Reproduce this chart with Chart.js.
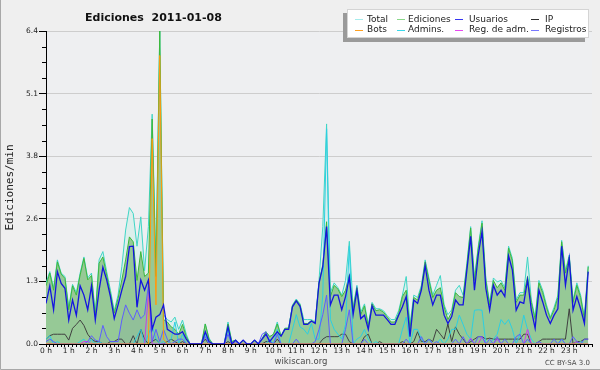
<!DOCTYPE html>
<html><head><meta charset="utf-8">
<script src="https://cdn.jsdelivr.net/npm/chart.js@4.4.0/dist/chart.umd.min.js"></script>
<style>
html,body{margin:0;padding:0;background:#efefef;overflow:hidden}
#wrap{position:relative;width:600px;height:370px}
canvas{display:block}
</style>
</head><body><div id="wrap"><canvas id="c" width="600" height="370"></canvas></div>
<script>
// 10-minute samples, 144 per series (00:00 .. 23:50)
const hourLabels = ["0 h","1 h","2 h","3 h","4 h","5 h","6 h","7 h","8 h","9 h","10 h","11 h","12 h","13 h","14 h","15 h","16 h","17 h","18 h","19 h","20 h","21 h","22 h","23 h"];
const yTickLabels = ["0.0","1.3","2.6","3.8","5.1","6.4"];
const seriesNames = ["Total","Ediciones","Usuarios","IP","Bots","Admins.","Reg. de adm.","Registros"];

const total = [
 1.25,1.48,1.15,1.72,1.45,1.38, 0.75,1.22,1.05,1.45,1.78,1.35, 1.45,0.62,1.72,1.89,1.48,1.10,
 0.68,1.00,1.58,2.33,2.79,2.67, 2.00,2.60,1.50,2.40,4.70,1.60, 6.40,0.60,0.50,0.45,0.55,0.30,
 0.49,0.20,0,0,0,0, 0.41,0.12,0,0,0,0, 0.45,0.05,0.08,0,0.08,0,
 0,0.08,0,0.11,0.25,0.15, 0.20,0.45,0.16,0.32,0.33,0.80, 0.92,0.82,0.50,0.50,0.50,0.45,
 1.30,2.40,4.50,1.05,1.25,1.15, 1.00,1.30,2.10,0.75,1.20,0.65, 0.82,0.40,0.85,0.72,0.72,0.68,
 0.58,0.50,0.50,0.68,1.00,1.38, 0.40,1.00,0.95,1.20,1.72,1.35, 1.00,1.20,1.40,0.80,0.60,0.70,
 1.10,1.20,1.00,1.65,2.40,1.35, 2.00,2.52,1.35,0.85,1.35,1.27, 1.30,1.15,2.00,1.75,0.90,1.05,
 1.05,1.78,0.90,0.55,1.30,1.10, 0.80,0.55,0.75,1.00,2.12,1.50, 1.82,0.90,1.25,1.00,0.55,1.60
];
const ediciones = [
 1.19,1.45,1.10,1.68,1.43,1.34, 0.70,1.19,1.00,1.41,1.75,1.31, 1.40,0.56,1.65,1.78,1.41,1.03,
 0.63,0.93,1.31,1.72,2.19,2.09, 1.30,1.89,1.38,1.45,4.60,1.38, 6.40,0.50,0.45,0.35,0.30,0.20,
 0.40,0.15,0,0,0,0, 0.41,0.10,0,0,0,0, 0.41,0.05,0.08,0,0.08,0,
 0,0.08,0,0.11,0.25,0.15, 0.20,0.41,0.16,0.32,0.32,0.78, 0.90,0.80,0.42,0.42,0.48,0.43,
 1.26,1.62,2.50,0.97,1.20,1.12, 0.97,1.10,1.42,0.72,1.15,0.60, 0.78,0.35,0.82,0.68,0.70,0.65,
 0.55,0.45,0.45,0.62,0.97,1.10, 0.30,0.95,0.90,1.15,1.68,1.30, 0.95,1.10,1.15,0.76,0.50,0.65,
 1.05,0.97,0.95,1.60,2.37,1.30, 1.95,2.47,1.30,0.80,1.30,1.15, 1.25,1.10,1.96,1.70,0.85,1.00,
 1.00,1.38,0.85,0.50,1.25,1.05, 0.75,0.52,0.70,0.95,2.09,1.45, 1.78,0.85,1.20,0.95,0.50,1.58
];
const usuarios = [
 0.83,1.19,0.70,1.48,1.24,1.14, 0.49,0.90,0.59,1.19,1.00,0.70, 1.19,0.49,1.10,1.57,1.31,0.97,
 0.52,0.80,1.10,1.38,1.99,2.00, 0.75,1.31,1.10,1.31,0.30,0.55, 0.60,0.80,0.30,0.25,0.20,0.20,
 0.25,0.10,0,0,0,0, 0.25,0.05,0,0,0,0, 0.35,0,0.08,0,0.08,0,
 0,0.08,0,0.10,0.20,0.05, 0.15,0.25,0.16,0.30,0.30,0.76, 0.88,0.77,0.40,0.40,0.47,0.42,
 1.24,1.58,2.40,0.80,1.00,1.00, 0.70,0.97,1.37,0.60,1.10,0.52, 0.59,0.30,0.78,0.59,0.59,0.59,
 0.50,0.40,0.40,0.59,0.76,0.97, 0.15,0.90,0.83,1.10,1.60,1.10, 0.80,1.00,1.00,0.59,0.42,0.56,
 0.90,0.80,0.80,1.51,2.20,1.10, 1.82,2.30,1.14,0.69,1.20,1.00, 1.10,0.97,1.80,1.51,0.69,0.86,
 0.83,1.31,0.69,0.32,1.10,0.86, 0.59,0.42,0.59,0.72,2.00,1.20, 1.75,0.69,0.97,0.72,0.42,1.48
];
const ip = [
 0.10,0.17,0.20,0.20,0.20,0.20, 0.08,0.32,0.40,0.49,0.38,0.20, 0.10,0.05,0.05,0,0,0.05,
 0.05,0.10,0.10,0,0,0.17, 0,0.30,0.10,0,0.05,0.10, 0,0,0.05,0.10,0.05,0,
 0.05,0,0,0,0,0, 0.10,0,0,0,0,0, 0.05,0,0,0,0,0,
 0,0,0,0,0.05,0.05, 0,0.10,0,0,0,0, 0,0,0,0,0,0,
 0,0.10,0.15,0.15,0.15,0.15, 0.20,0.20,0.05,0,0,0, 0.15,0.20,0,0,0.05,0,
 0,0,0,0,0.05,0, 0,0.05,0.25,0.05,0.05,0.10, 0.05,0.30,0.20,0.10,0.41,0.05,
 0.35,0.20,0.10,0,0.05,0.10, 0.15,0.15,0.10,0.12,0.10,0.10, 0.10,0.10,0.10,0.10,0.10,0.10,
 0.20,0.20,0,0,0.05,0.10, 0.10,0.10,0.10,0.10,0.10,0.10, 0.72,0,0.05,0.05,0.10,0.10
];
const bots = [
 0,0,0,0,0,0, 0,0,0,0,0,0, 0,0,0,0,0,0,
 0,0,0,0,0,0, 0,0,0,0,4.20,0.80, 5.90,0.10,0,0,0,0,
 0,0,0,0,0,0, 0,0,0,0,0,0, 0,0,0,0,0,0,
 0,0,0,0,0,0, 0,0,0,0,0,0, 0,0,0,0,0,0,
 0,0,0,0,0,0, 0,0,0,0,0,0, 0,0,0,0,0,0,
 0,0,0,0,0,0, 0,0,0,0,0,0, 0,0,0,0,0,0,
 0,0,0,0,0,0, 0,0,0,0,0,0, 0,0,0,0,0,0,
 0,0,0,0,0,0, 0,0,0,0,0,0, 0,0,0,0,0,0
];
const admins = [
 0.10,0.17,0,0.05,0,0, 0,0,0,0.05,0.10,0, 0.10,0,0.05,0,0,0,
 0,0,0,0,0,0, 0.15,0.30,0,0.20,0.38,0.10, 0,0.05,0,0.10,0.45,0,
 0.20,0,0,0,0,0, 0.20,0,0,0,0,0, 0.30,0,0,0,0,0,
 0,0,0,0,0,0.10, 0,0.30,0,0,0,0.30, 0.60,0.35,0.30,0.20,0.42,0.10,
 0.10,1.00,4.40,0.50,0.30,0.20, 0.10,0.40,2.00,0,0.10,0.15, 0.30,0.10,0,0.05,0,0,
 0,0,0,0,0.30,0.55, 0,0.30,0.30,0.10,0,0.10, 0,0,0.10,0,0.10,0.30,
 0.30,0.59,0.40,0.20,0.10,0.69, 0.70,0.69,0,0,0.10,0.20, 0.50,0.40,0.50,0.30,0,0.20,
 0.59,0.30,0.10,0,0,0, 0,0,0,0,0.10,0, 0,0,0,0.05,0,0
];
const regAdm = [
 0,0,0,0,0,0, 0,0,0,0,0.05,0.05, 0,0,0,0,0,0,
 0,0,0,0,0,0, 0,0,0,1.05,0,0, 0,0,0,0,0,0,
 0,0,0,0,0,0, 0,0,0,0,0,0, 0,0,0,0,0,0,
 0,0,0,0,0,0, 0,0,0,0,0,0, 0,0,0,0,0,0,
 0,0,0,0,0,0, 0,0,0,0,0,0, 0,0,0,0,0,0,
 0,0,0,0,0,0, 0,0,0,0,0,0, 0,0,0,0,0,0,
 0,0,0,0,0.12,0, 0,0.15,0,0,0,0.10, 0,0,0,0,0,0,
 0,0.30,0,0,0,0, 0,0,0,0,0,0, 0,0,0.05,0,0,0
];
const registros = [
 0.05,0.10,0.05,0,0,0, 0,0,0,0,0,0.05, 0.17,0.08,0.05,0.38,0.15,0.05,
 0.05,0.05,0.49,0.80,0.63,0.49, 0.70,0.52,0.60,1.20,0.05,0.30, 0.05,0.30,0.10,0,0.05,0.10,
 0.10,0,0,0,0,0, 0.15,0,0,0,0,0, 0.20,0,0.05,0,0,0,
 0,0,0,0.20,0.25,0.05, 0,0.20,0,0,0,0, 0.10,0,0,0,0,0.05,
 0.30,0.60,1.00,0,0,0, 0,0.30,0.70,0,0,0, 0.10,0,0,0,0,0,
 0,0,0,0,0,0.10, 0,0,0,0.15,0,0.10, 0,0.05,0,0,0,0,
 0.10,0,0.15,0,0.10,0, 0.15,0.15,0,0.10,0,0.15, 0,0.10,0,0,0.15,0.20,
 0,0.10,0,0,0.05,0, 0,0,0.10,0,0.10,0, 0,0.15,0.05,0,0.10,0.10
];

const toPoints = arr => arr.map((v, i) => ({x: i, y: v}));
const FONT = '"DejaVu Sans", sans-serif';

const datasets = [
  {label: seriesNames[2], data: toPoints(usuarios),  borderColor: '#1414e0', borderWidth: 1.3, legendColor: '#3535f2', order: 1},
  {label: seriesNames[4], data: toPoints(bots),      borderColor: '#ff9a10', legendColor: '#ffa020', order: 2},
  {label: seriesNames[7], data: toPoints(registros), borderColor: '#5e5eff', backgroundColor: 'rgba(80,90,200,0.07)', fill: 'origin', legendColor: '#7878ff', order: 3},
  {label: seriesNames[6], data: toPoints(regAdm),    borderColor: '#d43ce8', legendColor: '#e848f0', order: 4},
  {label: seriesNames[5], data: toPoints(admins),    borderColor: '#2ccfe2', legendColor: '#3ad8ea', order: 5},
  {label: seriesNames[3], data: toPoints(ip),        borderColor: '#404040', legendColor: '#303030', order: 6},
  {label: seriesNames[1], data: toPoints(ediciones), borderColor: '#3cb83c', backgroundColor: '#96c996', fill: 'origin', legendColor: '#8ad88a', order: 8},
  {label: seriesNames[0], data: toPoints(total),     borderColor: '#3fd6c6', backgroundColor: '#dcefec', fill: 'origin', legendColor: '#a6ecec', order: 9}
];

const decoPlugin = {
  id: 'deco',
  beforeDraw(chart) {
    const ctx = chart.ctx;
    ctx.save();
    ctx.fillStyle = '#efefef';
    ctx.fillRect(0, 0, chart.width, chart.height);
    const a = chart.chartArea;
    ctx.fillStyle = '#eeeff1';
    ctx.fillRect(a.left, a.top, a.right - a.left, a.bottom - a.top);
    ctx.restore();
  },
  afterDraw(chart) {
    const ctx = chart.ctx;
    const ys = chart.scales.y;
    ctx.save();
    // minor y ticks
    ctx.strokeStyle = '#000';
    ctx.lineWidth = 1;
    ctx.beginPath();
    ys.ticks.forEach((t, k) => {
      if (k % 4 !== 0) {
        const py = Math.round(ys.getPixelForValue(t.value)) + 0.5;
        ctx.moveTo(ys.right - 4, py);
        ctx.lineTo(ys.right, py);
      }
    });
    ctx.stroke();
    // title
    ctx.fillStyle = '#111';
    ctx.font = 'bold 11px ' + FONT;
    ctx.textBaseline = 'alphabetic';
    ctx.textAlign = 'left';
    ctx.fillText('Ediciones  2011-01-08', 85, 21);
    // legend box with shadow
    ctx.fillStyle = '#9a9a9a';
    ctx.fillRect(343, 13, 242, 29);
    ctx.fillStyle = '#ffffff';
    ctx.fillRect(347, 9, 242, 29);
    ctx.strokeStyle = '#d4d4d4';
    ctx.strokeRect(347.5, 9.5, 241, 28);
    const order = [7, 6, 0, 5, 1, 4, 3, 2]; // Total, Ediciones, Usuarios, IP / Bots, Admins., Reg. de adm., Registros
    const colX = [355, 397, 455, 531];
    const textX = [367, 408, 469, 545];
    const rowY = [19, 29.5];
    ctx.font = '9px ' + FONT;
    ctx.textBaseline = 'middle';
    order.forEach((di, k) => {
      const ds = chart.data.datasets[di];
      const c = k % 4, r = Math.floor(k / 4);
      const y = Math.round(rowY[r]) + 0.5;
      ctx.strokeStyle = ds.legendColor;
      ctx.lineWidth = 1;
      ctx.beginPath();
      ctx.moveTo(colX[c], y);
      ctx.lineTo(colX[c] + 8, y);
      ctx.stroke();
      ctx.fillStyle = '#222';
      ctx.fillText(ds.label, textX[c], rowY[r] + 0.5);
    });
    // footer
    ctx.fillStyle = '#4a4a4a';
    ctx.font = '8.5px ' + FONT;
    ctx.textAlign = 'center';
    ctx.textBaseline = 'alphabetic';
    ctx.fillText('wikiscan.org', 301, 364);
    ctx.font = '7px ' + FONT;
    ctx.textAlign = 'right';
    ctx.fillText('CC BY-SA 3.0', 590, 365);
    // frame
    ctx.strokeStyle = '#a8a8a8';
    ctx.lineWidth = 1;
    ctx.beginPath();
    ctx.moveTo(0.5, 0);
    ctx.lineTo(0.5, 369.5);
    ctx.lineTo(600, 369.5);
    ctx.stroke();
    ctx.restore();
  }
};

new Chart(document.getElementById('c'), {
  type: 'line',
  data: {datasets},
  options: {
    responsive: false,
    animation: false,
    devicePixelRatio: 1,
    layout: {padding: {left: 0, right: 8, top: 31, bottom: 0}},
    elements: {point: {radius: 0}, line: {borderWidth: 1, tension: 0}},
    plugins: {legend: {display: false}, tooltip: {enabled: false}, title: {display: false}},
    scales: {
      x: {
        type: 'linear', min: 0, max: 144,
        afterBuildTicks: s => { const t = []; for (let k = 0; k <= 144; k++) t.push({value: k}); s.ticks = t; },
        afterFit: s => { s.height = 26; },
        ticks: {
          autoSkip: false, maxRotation: 0, minRotation: 0, padding: 0,
          color: '#222', font: {family: FONT, size: 7.5},
          callback: v => (v % 6 === 0 && v < 144) ? hourLabels[v / 6] : ''
        },
        grid: {drawOnChartArea: false, tickLength: 3, color: '#000'},
        border: {color: '#000'}
      },
      y: {
        min: 0, max: 6.4,
        afterBuildTicks: s => { const t = []; for (let k = 0; k <= 20; k++) t.push({value: k * 0.32}); s.ticks = t; },
        afterFit: s => { s.width = 46; },
        ticks: {
          padding: 1, color: '#222', font: {family: FONT, size: 7.5},
          callback: (v, i) => (i % 4 === 0) ? yTickLabels[i / 4] : ''
        },
        grid: {
          tickLength: 7,
          color: c => (c.index % 4 === 0) ? '#cdcdcd' : 'rgba(0,0,0,0)',
          tickColor: c => (c.index % 4 === 0) ? '#000' : 'rgba(0,0,0,0)'
        },
        border: {color: '#000'},
        title: {display: true, text: 'Ediciones/min', color: '#222', font: {family: '"DejaVu Sans Mono", monospace', size: 11}, padding: {top: 4, bottom: 0}}
      }
    }
  },
  plugins: [decoPlugin]
});
</script>
</body></html>
